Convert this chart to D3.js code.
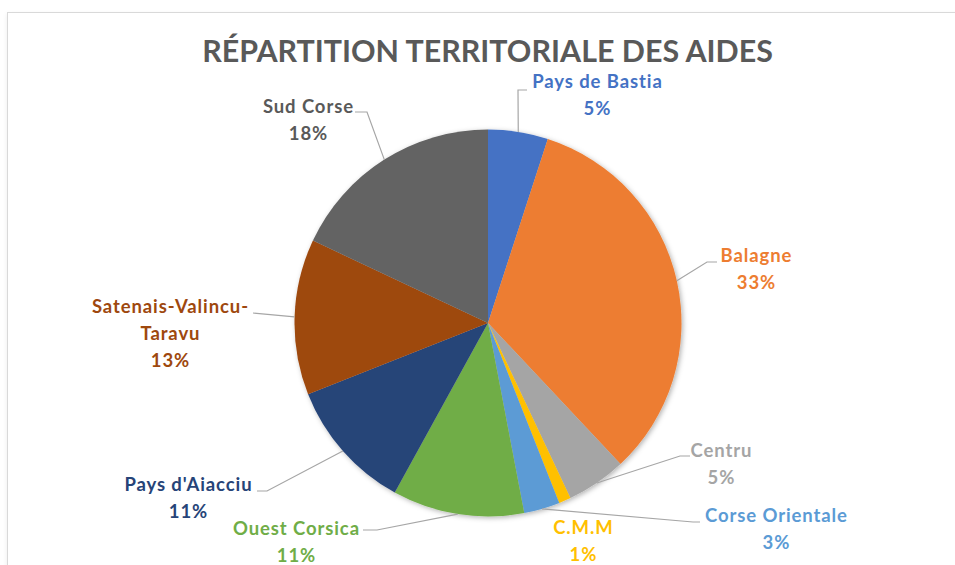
<!DOCTYPE html>
<html>
<head>
<meta charset="utf-8">
<script src="https://cdn.jsdelivr.net/npm/d3@7/dist/d3.min.js"></script>
<style>
  html, body { margin: 0; padding: 0; background: #fff; }
  svg { display: block; }
  text { font-family: Lato, "Open Sans", sans-serif; font-weight: 700; }
</style>
</head>
<body>
<svg id="chart" width="955" height="565"></svg>
<script>
// Territorial breakdown of aid, in percent
const regions = ["Pays de Bastia", "Balagne", "Centru", "C.M.M", "Corse Orientale",
                 "Ouest Corsica", "Pays d'Aiacciu", "Satenais-Valincu-Taravu", "Sud Corse"];
const shares = [5, 33, 5, 1, 3, 11, 11, 13, 18];
const sliceColors = ["#4472C4", "#ED7D31", "#A5A5A5", "#FFC000", "#5B9BD5",
                     "#70AD47", "#264478", "#9E480E", "#636363"];
const titleText = "RÉPARTITION TERRITORIALE DES AIDES";

// Label lines (text split for wrapping) and their placement around the pie
const labelLines = [
  ["Pays de Bastia"], ["Balagne"], ["Centru"], ["C.M.M"], ["Corse Orientale"],
  ["Ouest Corsica"], ["Pays d'Aiacciu"], ["Satenais-Valincu-", "Taravu"], ["Sud Corse"]
];
const labelLayout = [
  { x: 597, y: 88,  elbow: [[527, 90], [518, 90]] },
  { x: 756, y: 262, elbow: [[717, 262], [707, 262]] },
  { x: 721, y: 457, elbow: [[690, 456], [680, 456]] },
  { x: 583, y: 534, elbow: null },
  { x: 776, y: 522, elbow: [[700, 522], [693, 522]] },
  { x: 296, y: 535, elbow: [[363, 530], [377, 530]] },
  { x: 188, y: 491, elbow: [[257, 491], [267, 491]] },
  { x: 170, y: 313, elbow: [[253, 313]] },
  { x: 308, y: 113, elbow: [[355, 112], [367, 112]] }
];

const svg = d3.select("#chart");
const cx = 488, cy = 323, radius = 193.5;
const lineH = 26.8;

// Soft shadows for the frame and the pie
const defs = svg.append("defs");
const pieShadow = defs.append("filter").attr("id", "pieShadow")
  .attr("x", "-10%").attr("y", "-10%").attr("width", "120%").attr("height", "120%");
pieShadow.append("feDropShadow").attr("dx", 1.5).attr("dy", 1.5)
  .attr("stdDeviation", 2.5).attr("flood-color", "#000").attr("flood-opacity", 0.3);
const frameShadow = defs.append("filter").attr("id", "frameShadow")
  .attr("x", "-5%").attr("y", "-5%").attr("width", "110%").attr("height", "110%");
frameShadow.append("feDropShadow").attr("dx", 0).attr("dy", 2)
  .attr("stdDeviation", 2).attr("flood-color", "#000").attr("flood-opacity", 0.08);

// Chart frame
svg.append("rect")
  .attr("x", 7.5).attr("y", 12.5).attr("width", 1000).attr("height", 700)
  .attr("fill", "#fff").attr("stroke", "#d9d9d9").attr("stroke-width", 1)
  .attr("filter", "url(#frameShadow)");

// Title, fitted to its width
const title = svg.append("text")
  .attr("x", 487.5).attr("y", 62)
  .attr("text-anchor", "middle")
  .attr("fill", "#595959")
  .attr("font-size", 34)
  .text(titleText);
const tw = title.node().getComputedTextLength();
title.attr("font-size", 34 * 571 / tw);

// Pie
const pie = d3.pie().value(d => d).sort(null);
const arcs = pie(shares);
const arc = d3.arc().innerRadius(0).outerRadius(radius);

const g = svg.append("g").attr("transform", `translate(${cx},${cy})`);
g.append("g").attr("filter", "url(#pieShadow)")
  .selectAll("path")
  .data(arcs)
  .join("path")
  .attr("d", arc)
  .attr("fill", (d, i) => sliceColors[i]);

// Leader lines from each label to the middle of its slice's rim
const edgePoint = d => {
  const a = (d.startAngle + d.endAngle) / 2;
  return [cx + radius * Math.sin(a), cy - radius * Math.cos(a)];
};
arcs.forEach((d, i) => {
  const lay = labelLayout[i];
  if (!lay.elbow) return;
  const pts = lay.elbow.concat([edgePoint(d)]);
  svg.append("path")
    .attr("d", d3.line()(pts))
    .attr("fill", "none")
    .attr("stroke", "#a6a6a6")
    .attr("stroke-width", 1.2);
});

// Data labels: category name and percentage
arcs.forEach((d, i) => {
  const lay = labelLayout[i];
  const t = svg.append("text")
    .attr("text-anchor", "middle")
    .attr("fill", i === 8 ? "#595959" : sliceColors[i])
    .attr("font-size", 18.5)
    .attr("letter-spacing", 0.9);
  const lines = labelLines[i].concat([shares[i] + "%"]);
  lines.forEach((s, k) => {
    t.append("tspan").attr("x", lay.x + 0.45).attr("y", lay.y + k * lineH).text(s);
  });
});
</script>
</body>
</html>
